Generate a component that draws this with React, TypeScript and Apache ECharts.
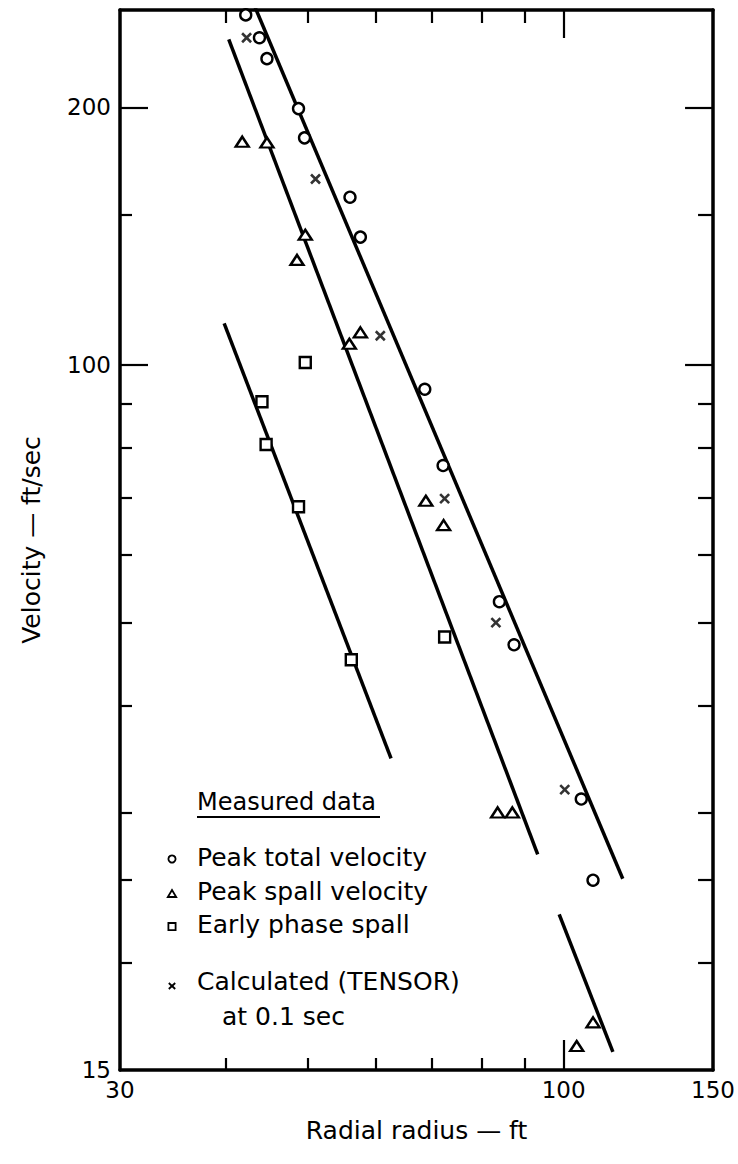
import React, { useEffect, useRef } from 'react';
import * as echarts from 'echarts';

// ---- axis ranges & ticks ----
const xMin = 30;
const xMax = 150;
const yMin = 15;
const yMax = 260;
const xLabelValues = [30, 100, 150];
const xMinorTicks = [40, 50, 60, 70, 80, 90];
const xMajorTicks = [100];
const yLabelValues = [15, 100, 200];
const yMinorTicks = [20, 25, 30, 40, 50, 60, 70, 80, 90, 150];
const yMajorTicks = [100, 200];

// ---- measured data (radius ft, velocity ft/sec) ----
const peakTotal: number[][] = [
  [42.2, 256.6], [43.8, 241.3], [44.7, 228.1], [48.7, 199.4], [49.5, 184.3],
  [56.0, 157.1], [57.6, 141.1], [68.6, 93.7], [72.1, 76.3], [84.0, 52.9],
  [87.4, 47.1], [104.9, 31.1], [108.3, 25.0],
];
const peakSpall: number[][] = [
  [41.8, 182.4], [44.7, 182.0], [49.6, 142.0], [48.5, 132.7], [57.6, 109.2],
  [55.9, 105.9], [68.8, 69.4], [72.2, 65.0], [83.6, 30.0], [87.0, 30.0],
  [108.3, 17.05], [103.6, 16.0],
];
const earlySpall: number[][] = [
  [49.6, 100.7], [44.1, 90.6], [44.6, 80.75], [48.7, 68.3], [56.2, 45.25], [72.4, 48.1],
];
const calculated: number[][] = [
  [42.3, 241.3], [51.0, 165.0], [60.8, 108.2], [72.4, 69.8], [83.2, 50.0], [100.3, 31.9],
];

// ---- fitted lines (end points) ----
const lineTotal: number[][] = [[43.3, 261.7], [117.4, 25.1]];
const lineSpall: number[][] = [[40.3, 240.3], [93.2, 26.8]];
const lineEarly: number[][] = [[39.8, 111.9], [62.6, 34.7]];
const lineSpallTail: number[][] = [[98.8, 22.8], [114.3, 15.75]];

const legendTitle = 'Measured data';
const legendItems = ['Peak total velocity', 'Peak spall velocity', 'Early phase spall', 'Calculated (TENSOR)'];
const legendNote = 'at 0.1 sec';

const FONT = '"DejaVu Sans", sans-serif';
const BLACK = '#000';

function xAxisCfg(position: 'bottom' | 'top', ticks: number[], len: number, line: boolean, labels: boolean, name?: string) {
  return {
    type: 'log',
    logBase: 10,
    min: xMin,
    max: xMax,
    position,
    gridIndex: 0,
    name: name || '',
    nameLocation: 'middle',
    nameGap: 48,
    nameTextStyle: { fontSize: 25, color: BLACK, fontFamily: FONT },
    axisLine: { show: line, onZero: false, lineStyle: { color: BLACK, width: 3.5 } },
    axisTick: { show: true, inside: true, length: len, customValues: ticks, lineStyle: { color: BLACK, width: 2.2 } },
    axisLabel: {
      show: labels,
      customValues: xLabelValues,
      fontSize: 23,
      color: BLACK,
      fontFamily: FONT,
      margin: 8,
      formatter: (v: number) => String(Math.round(v)),
    },
    splitLine: { show: false },
    minorTick: { show: false },
  };
}

function yAxisCfg(position: 'left' | 'right', ticks: number[], len: number, line: boolean, labels: boolean, name?: string) {
  return {
    type: 'log',
    logBase: 10,
    min: yMin,
    max: yMax,
    position,
    gridIndex: 0,
    name: name || '',
    nameLocation: 'middle',
    nameGap: 76,
    nameTextStyle: { fontSize: 25, color: BLACK, fontFamily: FONT },
    axisLine: { show: line, onZero: false, lineStyle: { color: BLACK, width: 3.5 } },
    axisTick: { show: true, inside: true, length: len, customValues: ticks, lineStyle: { color: BLACK, width: 2.2 } },
    axisLabel: {
      show: labels,
      customValues: yLabelValues,
      fontSize: 23,
      color: BLACK,
      fontFamily: FONT,
      margin: 9,
      formatter: (v: number) => String(Math.round(v)),
    },
    splitLine: { show: false },
    minorTick: { show: false },
  };
}

const hollow = { color: '#fff', borderColor: BLACK, borderWidth: 2.4, opacity: 1 };

function fitLine(name: string, data: number[][]) {
  return {
    name,
    type: 'line',
    xAxisIndex: 0,
    yAxisIndex: 0,
    data,
    symbol: 'none',
    lineStyle: { color: BLACK, width: 3.5 },
    clip: true,
    silent: true,
    z: 2,
  };
}

function legendGraphics() {
  const tx = 197;
  const sx = 172;
  const rows = [857, 891, 924, 981];
  const txt = (text: string, x: number, y: number, size: number) => ({
    type: 'text',
    x,
    y,
    style: { text, fill: BLACK, fontSize: size, fontFamily: FONT, verticalAlign: 'middle', align: 'left' },
  });
  const sym = { fill: '#fff', stroke: BLACK, lineWidth: 1.8 };
  return [
    txt(legendTitle, tx, 802, 24),
    { type: 'line', shape: { x1: tx, y1: 817, x2: 380, y2: 817 }, style: { stroke: BLACK, lineWidth: 2.2 } },
    { type: 'circle', shape: { cx: sx, cy: rows[0] + 2, r: 3.6 }, style: sym },
    txt(legendItems[0], tx, rows[0], 25),
    { type: 'polygon', shape: { points: [[sx - 4.2, rows[1] + 6], [sx + 4.2, rows[1] + 6], [sx, rows[1] - 1]] }, style: sym },
    txt(legendItems[1], tx, rows[1], 25),
    { type: 'rect', shape: { x: sx - 3.6, y: rows[2] - 1, width: 7.2, height: 7.2 }, style: sym },
    txt(legendItems[2], tx, rows[2], 25),
    { type: 'line', shape: { x1: sx - 3.2, y1: rows[3] + 2, x2: sx + 3.2, y2: rows[3] + 8 }, style: { stroke: BLACK, lineWidth: 1.8 } },
    { type: 'line', shape: { x1: sx - 3.2, y1: rows[3] + 8, x2: sx + 3.2, y2: rows[3] + 2 }, style: { stroke: BLACK, lineWidth: 1.8 } },
    txt(legendItems[3], tx, rows[3], 25),
    txt(legendNote, 222, 1016, 25),
  ];
}

const option = {
  animation: false,
  backgroundColor: '#fff',
  textStyle: { fontFamily: FONT },
  grid: { left: 120, top: 10, width: 597, height: 1060, containLabel: false },
  xAxis: [
    xAxisCfg('bottom', xMinorTicks, 12, true, true, 'Radial radius — ft'),
    xAxisCfg('bottom', xMajorTicks, 30, false, false),
    xAxisCfg('top', xMinorTicks, 13, true, false),
    xAxisCfg('top', xMajorTicks, 28, false, false),
  ],
  yAxis: [
    yAxisCfg('left', yMinorTicks, 12, true, true, 'Velocity — ft/sec'),
    yAxisCfg('left', yMajorTicks, 28, false, false),
    yAxisCfg('right', yMinorTicks, 15, true, false),
    yAxisCfg('right', yMajorTicks, 28, false, false),
  ],
  series: [
    fitLine('Fit total', lineTotal),
    fitLine('Fit spall', lineSpall),
    fitLine('Fit early', lineEarly),
    fitLine('Fit spall tail', lineSpallTail),
    {
      name: legendItems[0], type: 'scatter', data: peakTotal, symbol: 'circle', symbolSize: 11,
      itemStyle: hollow, z: 5, clip: false,
    },
    {
      name: legendItems[1], type: 'scatter', data: peakSpall, symbol: 'triangle', symbolSize: [13, 10],
      itemStyle: hollow, z: 5, clip: false,
    },
    {
      name: legendItems[2], type: 'scatter', data: earlySpall, symbol: 'rect', symbolSize: 11,
      itemStyle: hollow, z: 5, clip: false,
    },
    {
      name: legendItems[3], type: 'scatter', data: calculated, symbol: 'path://M0,0L10,10M0,10L10,0', symbolSize: 9,
      itemStyle: { color: 'transparent', borderColor: BLACK, borderWidth: 2.6 }, z: 5, clip: false,
    },
  ],
  graphic: legendGraphics(),
};

export default function App() {
  const ref = useRef<HTMLDivElement>(null);
  useEffect(() => {
    document.body.style.margin = '0';
    const chart = echarts.init(ref.current as HTMLDivElement, null, { renderer: 'svg' });
    chart.setOption(option as any);
    return () => chart.dispose();
  }, []);
  return <div ref={ref} style={{ width: 738, height: 1164, background: '#fff' }} />;
}
